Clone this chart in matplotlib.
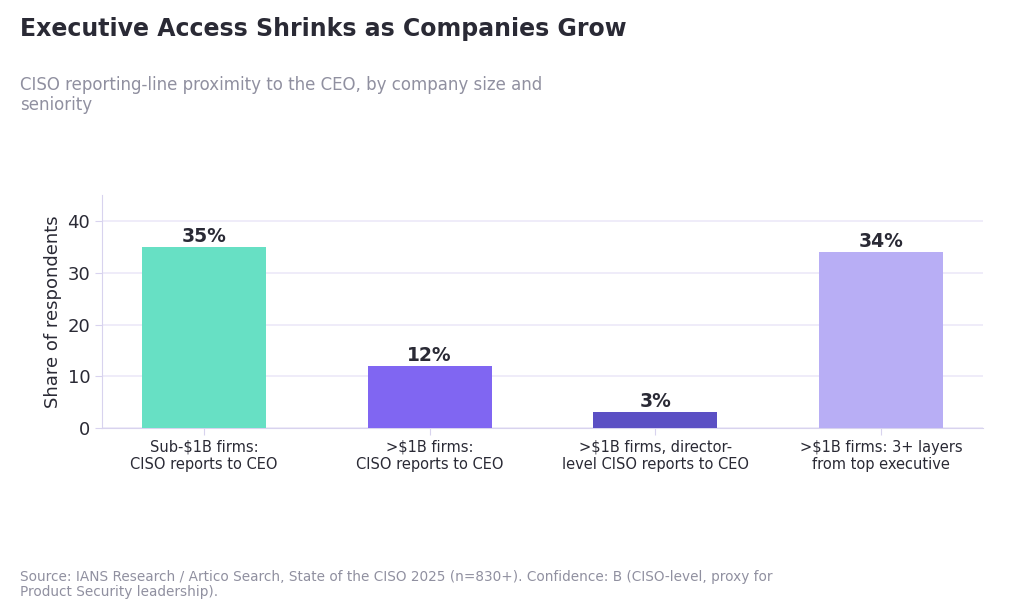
import matplotlib
matplotlib.use("Agg")
import matplotlib.pyplot as plt
plt.rcParams['font.family'] = ['DejaVu Sans']

categories = ["Sub-$1B firms:\nCISO reports to CEO", ">$1B firms:\nCISO reports to CEO",
              ">$1B firms, director-\nlevel CISO reports to CEO", ">$1B firms: 3+ layers\nfrom top executive"]
values = [35, 12, 3, 34]
colors = ["#67E0C4", "#8066F2", "#5B4FC4", "#B8AEF5"]

fig = plt.figure(figsize=(10.24, 6.12), dpi=100)
ax = fig.add_axes([0.0996, 0.3007, 0.8604, 0.3803])
x = range(len(categories))
bars = ax.bar(x, values, width=0.55, color=colors, zorder=3)
for b, v in zip(bars, values):
    ax.text(b.get_x() + b.get_width() / 2, v + 0.2, f"{v}%", ha="center", va="bottom",
            fontsize=13.5, fontweight="bold", color="#2A2A35")
ax.set_ylim(0, 45)
ax.set_xlim(-0.452, 3.452)
ax.set_yticks([0, 10, 20, 30, 40])
ax.set_xticks(list(x))
ax.set_xticklabels(categories, fontsize=10.5, color="#2A2A35")
ax.tick_params(axis="y", labelsize=13, colors="#2A2A35", length=5, color="#D8D3EE")
ax.tick_params(axis="x", length=5, color="#D8D3EE")
ax.set_ylabel("Share of respondents", fontsize=13, color="#2A2A35")
ax.grid(axis="y", color="#ECE9F8", linewidth=1.2, zorder=0)
for s in ["top", "right"]:
    ax.spines[s].set_visible(False)
for s in ["left", "bottom"]:
    ax.spines[s].set_color("#D8D3EE")

fig.text(0.0195, 0.952, "Executive Access Shrinks as Companies Grow", fontsize=17,
         fontweight="bold", color="#2A2A35", va="center")
fig.text(0.0195, 0.845, "CISO reporting-line proximity to the CEO, by company size and\nseniority",
         fontsize=12, color="#9090A0", va="center", linespacing=1.1)
fig.text(0.0195, 0.045, "Source: IANS Research / Artico Search, State of the CISO 2025 (n=830+). Confidence: B (CISO-level, proxy for\nProduct Security leadership).",
         fontsize=9.8, color="#9090A0", va="center", linespacing=1.1)
fig.savefig("out.png", dpi=100)
